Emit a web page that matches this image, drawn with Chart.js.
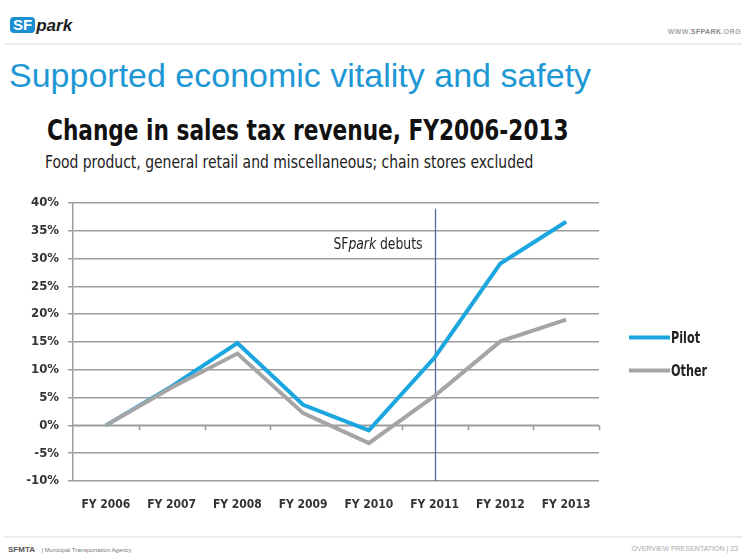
<!DOCTYPE html>
<html>
<head>
<meta charset="utf-8">
<title>Change in sales tax revenue</title>
<script src="https://cdn.jsdelivr.net/npm/chart.js@4.4.1/dist/chart.umd.min.js"></script>
<style>
  html, body { margin: 0; padding: 0; background: #fff; }
  body { width: 742px; height: 554px; position: relative; overflow: hidden; font-family: "Liberation Sans", Arial, sans-serif; }
  .logo { position: absolute; left: 10px; top: 17px; font-weight: bold; line-height: 17px; white-space: nowrap; }
  .logo .sf { display: inline-block; background: #1a8fd3; color: #fff; border-radius: 4px; padding: 0 3px; font-size: 15px; line-height: 16px; height: 16px; vertical-align: top; }
  .logo .park { font-style: italic; color: #1d1d1d; font-size: 17px; margin-left: 1px; vertical-align: top; }
  .url { position: absolute; right: 1px; top: 28px; font-size: 7px; color: #a8a8a8; font-weight: bold; letter-spacing: 0.4px; }
  .url b { color: #888; }
  .rule { position: absolute; left: 4px; right: 0; height: 2px; background: #ececec; }
  h1 { position: absolute; left: 9px; top: 55px; margin: 0; font-weight: normal; font-size: 34px; line-height: 40px; color: #1e98d4; white-space: nowrap; }
  .ctitle, .csub { position: absolute; margin: 0; white-space: nowrap; transform-origin: 0 0; font-family: "DejaVu Sans Condensed", "DejaVu Sans", sans-serif; }
  .ctitle { left: 47px; top: 114px; font-weight: bold; font-size: 28px; line-height: 34px; color: #111; transform: scaleX(0.86); }
  .csub { left: 45px; top: 151px; font-size: 18px; line-height: 22px; color: #222; transform: scaleX(0.86); }
  .foot-l { position: absolute; left: 8px; top: 545px; font-size: 6px; color: #777; }
  .foot-l b { color: #555; font-size: 8px; margin-right: 5px; }
  .foot-r { position: absolute; right: 4px; top: 545px; font-size: 7px; color: #aaa; }
  #wrap { position: absolute; left: 0; top: 186px; width: 742px; height: 334px; }
</style>
</head>
<body>
<div class="logo"><span class="sf">SF</span><span class="park">park</span></div>
<div class="url">WWW.<b>SFPARK</b>.ORG</div>
<div class="rule" style="top:43px"></div>
<h1>Supported economic vitality and safety</h1>
<div class="ctitle">Change in sales tax revenue, FY2006-2013</div>
<div class="csub">Food product, general retail and miscellaneous; chain stores excluded</div>
<div id="wrap"><canvas id="salesTax" width="742" height="334"></canvas></div>
<div class="rule" style="top:536px"></div>
<div class="foot-l"><b>SFMTA</b> | Municipal Transportation Agency</div>
<div class="foot-r">OVERVIEW PRESENTATION | 23</div>

<script>
const years = ['FY 2006', 'FY 2007', 'FY 2008', 'FY 2009', 'FY 2010', 'FY 2011', 'FY 2012', 'FY 2013'];
const pilot = [0, 7.0, 14.8, 3.7, -0.9, 12.2, 29.1, 36.6];
const other = [0, 6.8, 12.9, 2.2, -3.2, 5.3, 15.1, 19.0];
const yMin = -10;
const yMax = 40;
const yStep = 5;
const debutYear = 'FY 2011';
const debutLabelAt = 32.4;

const cond = '"DejaVu Sans Condensed", "DejaVu Sans", sans-serif';
const gridGray = '#9c9c9c';

// squeeze text a little further than the condensed face goes
function narrowText(ctx, text, x, y, squeeze) {
  ctx.save();
  ctx.translate(x, y);
  ctx.scale(squeeze, 1);
  ctx.fillText(text, 0, 0);
  ctx.restore();
}

// x axis sits on the 0% line, with small ticks between the years
const zeroAxis = {
  id: 'zeroAxis',
  beforeDatasetsDraw(chart) {
    const { ctx, scales: { x, y } } = chart;
    const y0 = y.getPixelForValue(0);
    const n = chart.data.labels.length;
    ctx.save();
    ctx.strokeStyle = gridGray;
    ctx.lineWidth = 1.5;
    ctx.beginPath();
    ctx.moveTo(x.left, y0);
    ctx.lineTo(x.right, y0);
    for (let i = 1; i <= n; i++) {
      const px = Math.round(x.left + i * x.width / n) + 0.5;
      ctx.moveTo(px, y0);
      ctx.lineTo(px, y0 + 5);
    }
    ctx.stroke();
    ctx.restore();
  }
};

// launch marker: vertical rule plus "SFpark debuts"
const debutLine = {
  id: 'debutLine',
  beforeDatasetsDraw(chart) {
    const { ctx, chartArea, scales: { x, y } } = chart;
    const px = Math.round(x.getPixelForValue(years.indexOf(debutYear))) + 0.5;
    ctx.save();
    ctx.strokeStyle = '#5a6a9c';
    ctx.lineWidth = 1.3;
    ctx.beginPath();
    ctx.moveTo(px, chartArea.top + 6);
    ctx.lineTo(px, chartArea.bottom);
    ctx.stroke();

    const squeeze = 0.86;
    const ty = y.getPixelForValue(debutLabelAt);
    const parts = [
      ['SF', 'normal 16px ' + cond],
      ['park', 'italic 16px ' + cond],
      [' debuts', 'normal 16px ' + cond]
    ];
    let right = px - 13;
    ctx.fillStyle = '#222';
    ctx.textBaseline = 'middle';
    ctx.textAlign = 'right';
    for (let i = parts.length - 1; i >= 0; i--) {
      ctx.font = parts[i][1];
      narrowText(ctx, parts[i][0], right, ty, squeeze);
      right -= ctx.measureText(parts[i][0]).width * squeeze;
    }
    ctx.restore();
  }
};

// legend to the right of the plot, line sample + name
const sideLegend = {
  id: 'sideLegend',
  afterDraw(chart) {
    const { ctx, chartArea } = chart;
    const sets = chart.data.datasets;
    const mid = (chartArea.top + chartArea.bottom) / 2 + 12;
    const gap = 33;
    const x0 = chartArea.right + 30;
    ctx.save();
    ctx.font = 'bold 16px ' + cond;
    ctx.textBaseline = 'middle';
    ctx.textAlign = 'left';
    sets.forEach((ds, i) => {
      const ly = mid + (i - (sets.length - 1) / 2) * gap;
      ctx.strokeStyle = ds.borderColor;
      ctx.lineWidth = 4;
      ctx.beginPath();
      ctx.moveTo(x0, ly);
      ctx.lineTo(x0 + 41, ly);
      ctx.stroke();
      ctx.fillStyle = '#222';
      narrowText(ctx, ds.label, x0 + 42, ly + 1, 0.78);
    });
    ctx.restore();
  }
};

new Chart(document.getElementById('salesTax'), {
  type: 'line',
  data: {
    labels: years,
    datasets: [{
      label: 'Pilot',
      data: pilot,
      borderColor: '#1ba6df',
      borderWidth: 4,
      pointRadius: 0,
      tension: 0,
      order: 1
    }, {
      label: 'Other',
      data: other,
      borderColor: '#a5a5a5',
      borderWidth: 4,
      pointRadius: 0,
      tension: 0,
      order: 0
    }]
  },
  options: {
    responsive: false,
    animation: false,
    layout: {
      padding: { top: 16, right: 143, bottom: 0, left: 0 }
    },
    plugins: {
      legend: { display: false },
      tooltip: { enabled: false }
    },
    scales: {
      x: {
        offset: true,
        grid: { display: false, drawTicks: false },
        border: { display: false },
        ticks: {
          padding: 17,
          color: '#333',
          font: { family: cond, size: 12, weight: 'bold' }
        },
        afterFit(scale) { scale.height = 39; }
      },
      y: {
        min: yMin,
        max: yMax,
        grid: {
          color: gridGray,
          lineWidth: 1.5,
          tickLength: 5
        },
        border: { color: gridGray, width: 1.5 },
        ticks: {
          stepSize: yStep,
          padding: 9,
          color: '#333',
          font: { family: cond, size: 13, weight: 'bold' },
          callback: v => v + '%'
        },
        afterFit(scale) { scale.width = 73; }
      }
    }
  },
  plugins: [zeroAxis, debutLine, sideLegend]
});
</script>
</body>
</html>
